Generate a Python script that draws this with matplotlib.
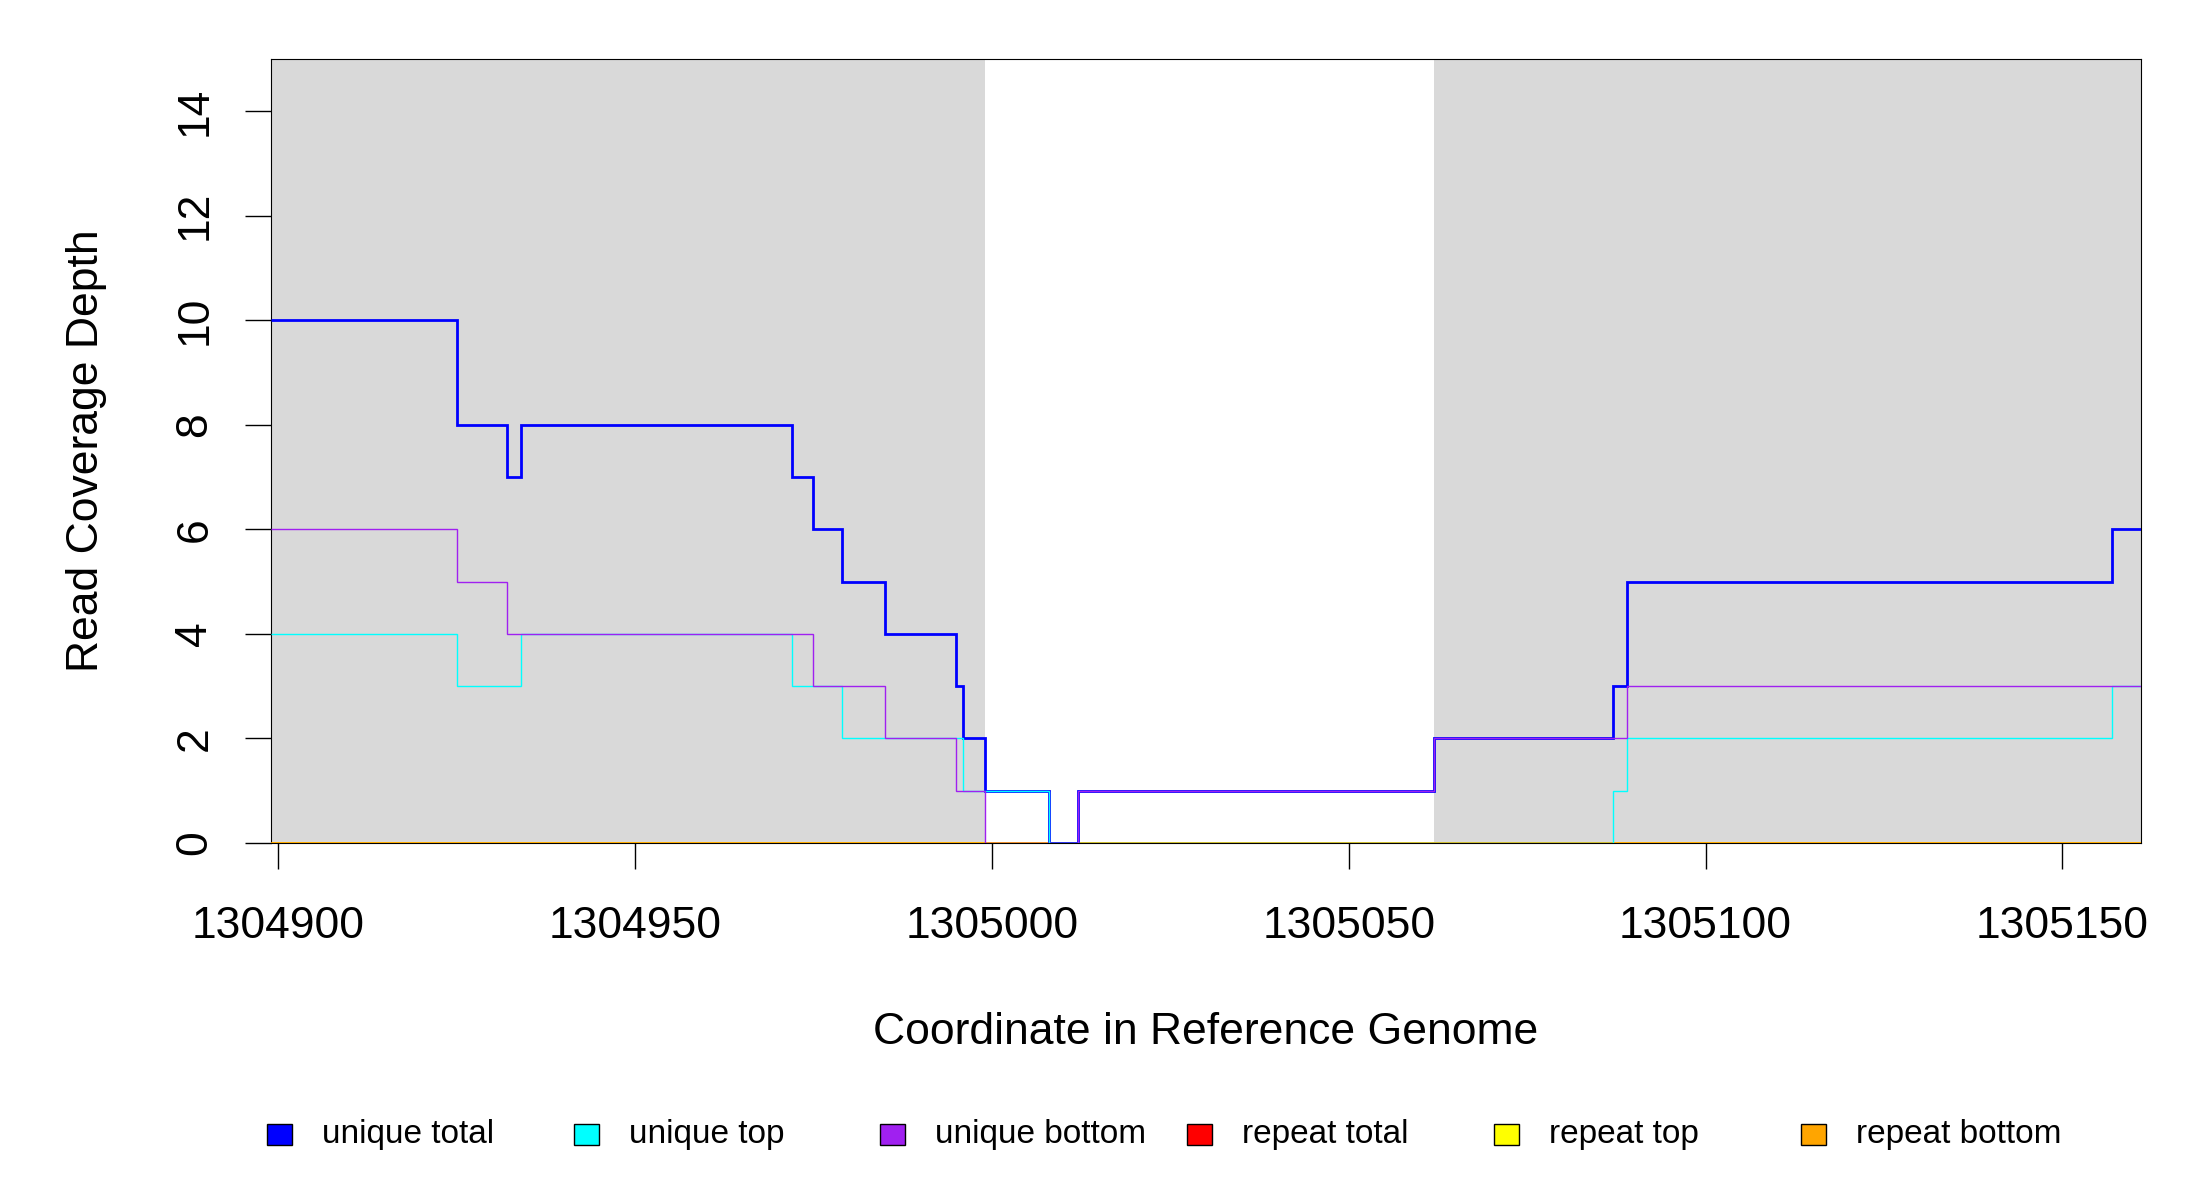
import matplotlib
matplotlib.use("Agg")
import matplotlib.pyplot as plt
from matplotlib.patches import Rectangle

plt.rcParams['font.family'] = ['Liberation Sans', 'DejaVu Sans']

# ---- data ----
x_lim = (1304899, 1305161)
y_lim = (0, 15)
x_ticks = [1304900, 1304950, 1305000, 1305050, 1305100, 1305150]
y_ticks = [0, 2, 4, 6, 8, 10, 12, 14]
shaded_regions = [(1304899, 1304999), (1305062, 1305161)]

total_edges = [1304899, 1304925, 1304932, 1304934, 1304972, 1304975, 1304979,
               1304985, 1304995, 1304996, 1304999, 1305008, 1305012, 1305062,
               1305087, 1305089, 1305157, 1305161]
total_vals = [10, 8, 7, 8, 7, 6, 5, 4, 3, 2, 1, 0, 1, 2, 3, 5, 6]

top_edges = [1304899, 1304925, 1304934, 1304972, 1304979, 1304996, 1305008,
             1305087, 1305089, 1305157, 1305161]
top_vals = [4, 3, 4, 3, 2, 1, 0, 1, 2, 3]

bottom_edges = [1304899, 1304925, 1304932, 1304975, 1304985, 1304995,
                1304999, 1305012, 1305062, 1305089, 1305161]
bottom_vals = [6, 5, 4, 3, 2, 1, 0, 1, 2, 3]

repeat_edges = [1304899, 1305161]
repeat_total_vals = [0]
repeat_top_vals = [0]
repeat_bottom_vals = [0]

legend_labels = ["unique total", "unique top", "unique bottom",
                 "repeat total", "repeat top", "repeat bottom"]
legend_colors = ["#0000FF", "#00FFFF", "#A020F0", "#FF0000", "#FFFF00", "#FFA500"]

# ---- figure ----
W, H = 2200, 1200
AX_L, AX_R, AX_T, AX_B = 271, 2141, 59, 843
fig = plt.figure(figsize=(W / 100, H / 100), dpi=100)
ax = fig.add_axes([AX_L / W, 1 - AX_B / H, (AX_R - AX_L) / W, (AX_B - AX_T) / H])

for a, b in shaded_regions:
    ax.axvspan(a, b, color="#D9D9D9", lw=0, zorder=0)

ax.stairs(repeat_total_vals, repeat_edges, baseline=None, color="#FF0000", lw=2.0, zorder=2)
ax.stairs(repeat_top_vals, repeat_edges, baseline=None, color="#FFFF00", lw=2.0, zorder=2)
ax.stairs(repeat_bottom_vals, repeat_edges, baseline=None, color="#FFA500", lw=2.0, zorder=2)
ax.stairs(total_vals, total_edges, baseline=None, color="#0000FF", lw=2.0, zorder=3)
ax.stairs(top_vals, top_edges, baseline=None, color="#00FFFF", lw=1.0, zorder=4)
ax.stairs(bottom_vals, bottom_edges, baseline=None, color="#A020F0", lw=1.0, zorder=5)

ax.set_xlim(*x_lim)
ax.set_ylim(*y_lim)
ax.set_xticks(x_ticks)
ax.set_xticklabels([str(t) for t in x_ticks])
ax.set_yticks(y_ticks)
ax.set_yticklabels([str(t) for t in y_ticks], rotation=90, va="center")
ax.tick_params(axis="both", direction="out", length=19, width=1.0, labelsize=32, color="black")
ax.tick_params(axis="x", pad=26)
ax.tick_params(axis="y", pad=21)
for s in ax.spines.values():
    s.set_linewidth(0.8)
    s.set_zorder(1)

ax.set_xlabel("Coordinate in Reference Genome", fontsize=32, va="center")
ax.xaxis.set_label_coords(0.5, (AX_B - 1033) / (AX_B - AX_T))
ax.set_ylabel("Read Coverage Depth", fontsize=32, va="center", ha="center")
ax.yaxis.set_label_coords((87 - AX_L) / (AX_R - AX_L), 0.5)

# legend row (R style)
ly = 1134
for i, (lab, col) in enumerate(zip(legend_labels, legend_colors)):
    x0 = 267 + i * 306.7
    fig.patches.append(Rectangle((x0 / W, 1 - (ly + 10.5) / H), 25 / W, 21 / H,
                                 transform=fig.transFigure, facecolor=col,
                                 edgecolor="black", lw=1.0))
    fig.text((x0 + 55) / W, 1 - ly / H, lab, fontsize=24, va="center", ha="left")

fig.savefig("out.png", dpi=100)
